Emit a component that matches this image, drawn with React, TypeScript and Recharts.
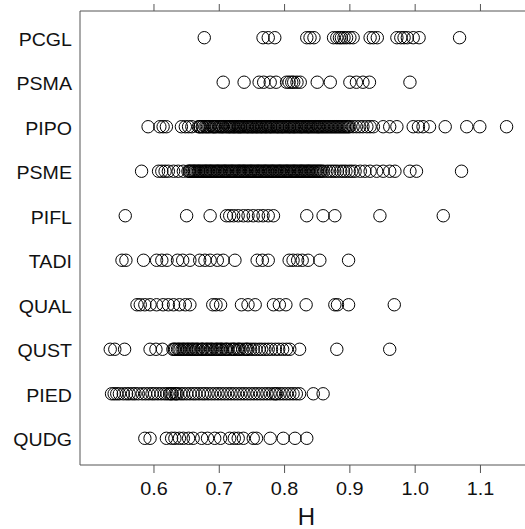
import { ScatterChart, Scatter, XAxis, YAxis } from 'recharts';

// species, top to bottom as drawn
const SPECIES = ['PCGL', 'PSMA', 'PIPO', 'PSME', 'PIFL', 'TADI', 'QUAL', 'QUST', 'PIED', 'QUDG'];

const X_TICKS = [0.6, 0.7, 0.8, 0.9, 1.0, 1.1];

const PCGL = [0.677, 0.767, 0.775, 0.785, 0.834, 0.839, 0.845, 0.875, 0.88, 0.884, 0.887, 0.891, 0.895, 0.9, 0.905, 0.931, 0.936, 0.942, 0.972, 0.978, 0.983, 0.988, 0.997, 1.006, 1.068];

const PSMA = [0.706, 0.738, 0.761, 0.768, 0.778, 0.787, 0.803, 0.807, 0.811, 0.814, 0.819, 0.824, 0.85, 0.87, 0.9, 0.91, 0.92, 0.93, 0.992];

const PIPO = [
  0.591, 0.609, 0.614, 0.619, 0.642, 0.648, 0.653, 0.658,
  0.668, 0.67, 0.671, 0.674, 0.675, 0.678, 0.68, 0.682, 0.684, 0.686, 0.689, 0.691, 0.692, 0.694,
  0.696, 0.699, 0.701, 0.703, 0.705, 0.706, 0.709, 0.711, 0.713, 0.715, 0.716, 0.718, 0.72, 0.722,
  0.723, 0.725, 0.727, 0.729, 0.73, 0.732, 0.733, 0.735, 0.737, 0.739, 0.741, 0.743, 0.744, 0.746,
  0.748, 0.75, 0.751, 0.753, 0.755, 0.757, 0.758, 0.76, 0.762, 0.764, 0.765, 0.767, 0.769, 0.771,
  0.772, 0.774, 0.776, 0.778, 0.779, 0.781, 0.783, 0.785, 0.787, 0.789, 0.79, 0.792, 0.794, 0.796,
  0.797, 0.799, 0.801, 0.803, 0.805, 0.807, 0.808, 0.81, 0.812, 0.814, 0.815, 0.817, 0.819, 0.821,
  0.823, 0.825, 0.826, 0.828, 0.83, 0.832, 0.834, 0.836, 0.837, 0.839, 0.841, 0.843, 0.845, 0.847,
  0.849, 0.851, 0.852, 0.854, 0.856, 0.858, 0.86, 0.862, 0.864, 0.866, 0.868, 0.87, 0.872, 0.874,
  0.876, 0.878, 0.88, 0.882, 0.884, 0.886, 0.888, 0.89, 0.892, 0.894, 0.896, 0.898, 0.9, 0.905,
  0.91, 0.915, 0.92, 0.926, 0.931, 0.936, 0.951, 0.961, 0.972, 0.997, 1.005, 1.012, 1.022, 1.046,
  1.079, 1.099, 1.14,
];

const PSME = [
  0.581, 0.607, 0.612, 0.617, 0.622, 0.63, 0.637, 0.645,
  0.652, 0.654, 0.655, 0.657, 0.659, 0.661, 0.662, 0.664, 0.666, 0.668, 0.669, 0.671, 0.673, 0.675,
  0.677, 0.679, 0.68, 0.682, 0.684, 0.686, 0.687, 0.689, 0.691, 0.693, 0.695, 0.697, 0.698, 0.7,
  0.702, 0.704, 0.706, 0.708, 0.709, 0.711, 0.713, 0.715, 0.717, 0.719, 0.72, 0.722, 0.724, 0.726,
  0.728, 0.73, 0.731, 0.733, 0.735, 0.737, 0.738, 0.74, 0.742, 0.744, 0.746, 0.748, 0.749, 0.751,
  0.753, 0.755, 0.757, 0.759, 0.76, 0.762, 0.764, 0.766, 0.768, 0.77, 0.771, 0.773, 0.775, 0.777,
  0.779, 0.781, 0.782, 0.784, 0.786, 0.788, 0.79, 0.792, 0.793, 0.795, 0.797, 0.799, 0.801, 0.803,
  0.804, 0.806, 0.808, 0.81, 0.812, 0.814, 0.815, 0.817, 0.819, 0.821, 0.823, 0.825, 0.826, 0.828,
  0.83, 0.832, 0.834, 0.836, 0.837, 0.839, 0.841, 0.843, 0.845, 0.847, 0.849, 0.851, 0.853, 0.855,
  0.857, 0.86, 0.865, 0.869, 0.873, 0.877, 0.881, 0.886, 0.89, 0.894, 0.899, 0.903,
  0.908, 0.916, 0.923, 0.931, 0.941, 0.951, 0.961, 0.969, 0.992, 1.002, 1.071,
];

const PIFL = [0.556, 0.65, 0.686, 0.711, 0.716, 0.722, 0.729, 0.737, 0.744, 0.752, 0.76, 0.767, 0.775, 0.783, 0.834, 0.859, 0.877, 0.946, 1.043];

const TADI = [0.551, 0.557, 0.584, 0.604, 0.612, 0.62, 0.636, 0.644, 0.655, 0.67, 0.678, 0.686, 0.697, 0.706, 0.724, 0.758, 0.766, 0.775, 0.807, 0.813, 0.82, 0.827, 0.836, 0.854, 0.898];

const QUAL = [0.574, 0.579, 0.586, 0.594, 0.604, 0.614, 0.622, 0.63, 0.639, 0.648, 0.655, 0.69, 0.695, 0.702, 0.734, 0.744, 0.755, 0.783, 0.792, 0.802, 0.833, 0.877, 0.881, 0.898, 0.968];

const QUST = [
  0.533, 0.54, 0.555, 0.594, 0.603, 0.613,
  0.629, 0.631, 0.633, 0.636, 0.638, 0.64, 0.643, 0.645, 0.647, 0.65, 0.652, 0.654, 0.657, 0.659,
  0.661, 0.664, 0.666, 0.668, 0.672, 0.674, 0.675, 0.679, 0.681, 0.683, 0.686, 0.688, 0.69, 0.694,
  0.696, 0.698, 0.701, 0.703, 0.705, 0.709, 0.711, 0.713, 0.717, 0.72, 0.722, 0.724, 0.728, 0.73,
  0.732, 0.736, 0.74, 0.742, 0.744, 0.748, 0.752, 0.756, 0.761, 0.765, 0.77, 0.775, 0.78, 0.786,
  0.791, 0.797, 0.803, 0.808, 0.823, 0.88, 0.961,
];

const PIED = [
  0.535, 0.539, 0.543, 0.547, 0.553, 0.558, 0.562, 0.567, 0.571, 0.576, 0.582, 0.587, 0.592, 0.597,
  0.601, 0.606, 0.611, 0.616, 0.62, 0.624, 0.626, 0.628, 0.632, 0.634, 0.636, 0.641, 0.645, 0.65,
  0.655, 0.66, 0.664, 0.669, 0.674, 0.678, 0.683, 0.688, 0.693, 0.698, 0.703, 0.708, 0.713, 0.718,
  0.723, 0.728, 0.733, 0.738, 0.743, 0.748, 0.753, 0.758, 0.763, 0.768, 0.773, 0.778, 0.783, 0.786,
  0.788, 0.793, 0.798, 0.803, 0.808, 0.813, 0.818, 0.823, 0.844, 0.859,
];

const QUDG = [0.586, 0.594, 0.619, 0.627, 0.632, 0.639, 0.645, 0.653, 0.66, 0.673, 0.682, 0.693, 0.702, 0.716, 0.723, 0.729, 0.737, 0.752, 0.757, 0.778, 0.798, 0.816, 0.834];

const VALUES: Record<string, number[]> = { PCGL, PSMA, PIPO, PSME, PIFL, TADI, QUAL, QUST, PIED, QUDG };

const FONT = 'Liberation Sans, Arial, Helvetica, sans-serif';
const AXIS = '#555';

// y position: PCGL on top (10) down to QUDG (1)
const rowOf = (name: string) => SPECIES.length - SPECIES.indexOf(name);

const Ring = (props: any) => (
  <circle cx={props.cx} cy={props.cy} r={6.2} fill="none" stroke="#000" strokeWidth={1} />
);

const XTick = ({ x, y, payload }: any) => (
  <text
    transform={`translate(${x},${y + 22}) scale(1.1,1)`}
    textAnchor="middle"
    fontSize={18}
    fontFamily={FONT}
    fill="#111"
  >
    {Number(payload.value).toFixed(1)}
  </text>
);

const YTick = ({ x, y, payload }: any) => (
  <text
    transform={`translate(${x},${y + 8}) scale(1.12,1)`}
    textAnchor="end"
    fontSize={17.5}
    fontFamily={FONT}
    fill="#111"
  >
    {SPECIES[SPECIES.length - payload.value]}
  </text>
);

const NoTick = () => <g />;

export default function App() {
  const domain: [number, number] = [0.4867, 1.1682];
  return (
    <div style={{ position: 'absolute', left: 0, top: 0, background: '#fff' }}>
      <ScatterChart width={525} height={529} margin={{ top: 0, right: 0, bottom: 0, left: 0 }}>
        <XAxis
          xAxisId="top"
          orientation="top"
          type="number"
          dataKey="h"
          domain={domain}
          ticks={X_TICKS}
          allowDataOverflow
          height={11}
          tickSize={7}
          stroke={AXIS}
          tick={NoTick}
        />
        <XAxis
          xAxisId="bottom"
          type="number"
          dataKey="h"
          domain={domain}
          ticks={X_TICKS}
          allowDataOverflow
          height={64}
          tickSize={8}
          tickMargin={0}
          stroke={AXIS}
          tick={XTick}
          label={{ value: 'H', position: 'insideBottom', offset: 4, dx: 4, fontSize: 24, fill: '#111', fontFamily: FONT }}
        />
        <YAxis
          type="number"
          dataKey="y"
          domain={[0.4, 10.6]}
          ticks={[1, 2, 3, 4, 5, 6, 7, 8, 9, 10]}
          allowDataOverflow
          width={80}
          tickSize={0}
          tickMargin={8}
          tickLine={false}
          stroke={AXIS}
          tick={YTick}
        />
        {SPECIES.map((name) => (
          <Scatter
            key={name}
            xAxisId="bottom"
            data={VALUES[name].map((h) => ({ h, y: rowOf(name) }))}
            shape={Ring}
            isAnimationActive={false}
          />
        ))}
      </ScatterChart>
    </div>
  );
}
